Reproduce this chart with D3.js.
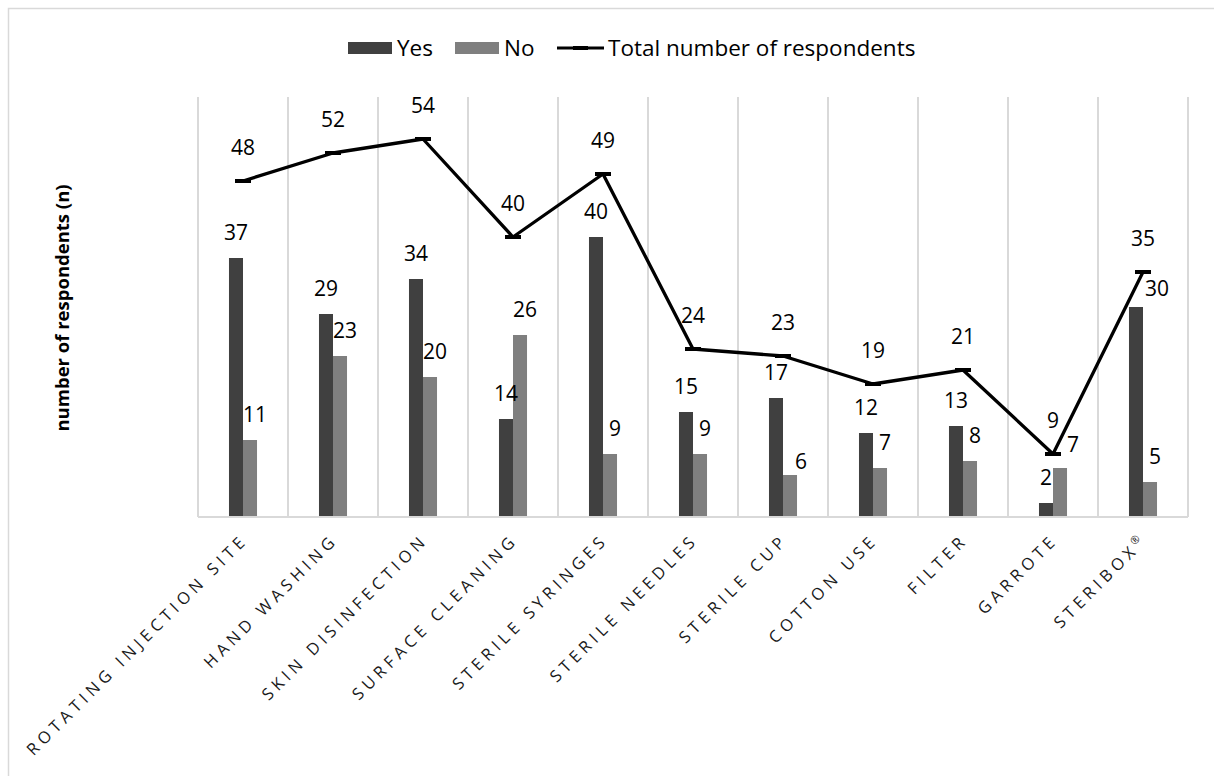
<!DOCTYPE html>
<html lang="en">
	<head>
		<meta charset="utf-8">
		<title>Hygiene practices chart</title>
		<script type="text/javascript" src="https://cdn.jsdelivr.net/npm/d3@7"></script>
		<style type="text/css">
			body { margin: 0; background: #fff; }
			svg { font-family: "Open Sans", sans-serif; }
			.grid line { stroke: #d9d9d9; stroke-width: 2; }
			.xlab text { font-size: 16.5px; letter-spacing: 4.5px; fill: #1a1a1a; }
			.val { font-size: 21px; fill: #000; text-anchor: middle; }
			.legend text { font-size: 22.5px; fill: #000; }
		</style>
	</head>
	<body>
		<script type="text/javascript">

			// data
			var categories = ["ROTATING INJECTION SITE", "HAND WASHING", "SKIN DISINFECTION", "SURFACE CLEANING",
				"STERILE SYRINGES", "STERILE NEEDLES", "STERILE CUP", "COTTON USE", "FILTER", "GARROTE", "STERIBOX\u00ae"];
			var yesValues = [37, 29, 34, 14, 40, 15, 17, 12, 13, 2, 30];
			var noValues = [11, 23, 20, 26, 9, 9, 6, 7, 8, 7, 5];
			var totalValues = [48, 52, 54, 40, 49, 24, 23, 19, 21, 9, 35];
			var seriesNames = ["Yes", "No"];
			var yMax = 60;

			var colors = {Yes: "#404040", No: "#7f7f7f"};

			var W = 1214, H = 776;
			var margin = {top: 97, right: 26, bottom: 259, left: 198};
			var w = W - margin.left - margin.right,
				h = H - margin.top - margin.bottom;

			var svg = d3.select("body")
						.append("svg")
						.attr("width", W)
						.attr("height", H);

			// outer chart border (runs off the right/bottom of the picture)
			svg.append("rect")
			   .attr("x", 8.5).attr("y", 8.5)
			   .attr("width", W + 20).attr("height", H + 20)
			   .attr("fill", "none")
			   .attr("stroke", "#d9d9d9")
			   .attr("stroke-width", 1.5);

			var g = svg.append("g")
					   .attr("transform", "translate(" + margin.left + "," + margin.top + ")");

			var xScale = d3.scaleBand()
			   .domain(categories)
			   .range([0, w])
			   .padding(0);

			var xInner = d3.scaleBand()
			   .domain(seriesNames)
			   .range([0, xScale.bandwidth()])
			   .paddingInner(0)
			   .paddingOuter(2.21);

			var yScale = d3.scaleLinear()
			   .domain([0, yMax])
			   .range([h, 0]);

			// vertical gridlines between categories
			var grid = g.append("g").attr("class", "grid");
			grid.selectAll("line.v")
			   .data(d3.range(categories.length + 1))
			   .enter()
			   .append("line")
			   .attr("x1", function(i) { return i * xScale.step(); })
			   .attr("x2", function(i) { return i * xScale.step(); })
			   .attr("y1", 0)
			   .attr("y2", h);

			// bars
			var rows = categories.map(function(c, i) {
				return {cat: c, Yes: yesValues[i], No: noValues[i], total: totalValues[i]};
			});

			// a few labels were moved by hand in the original
			var labelNudge = {
				"STERILE CUP|No": [6, 12],
				"GARROTE|No": [8, 2],
				"STERIBOX\u00ae|Yes": [21, 7]
			};

			var groups = g.selectAll("g.cat")
			   .data(rows)
			   .enter()
			   .append("g")
			   .attr("class", "cat")
			   .attr("transform", function(d) { return "translate(" + xScale(d.cat) + ",0)"; });

			groups.selectAll("rect")
			   .data(function(d) { return seriesNames.map(function(s) { return {cat: d.cat, key: s, v: d[s]}; }); })
			   .enter()
			   .append("rect")
			   .attr("x", function(d) { return xInner(d.key); })
			   .attr("y", function(d) { return yScale(d.v); })
			   .attr("width", xInner.bandwidth())
			   .attr("height", function(d) { return h - yScale(d.v); })
			   .attr("fill", function(d) { return colors[d.key]; });

			groups.selectAll("text.val")
			   .data(function(d) { return seriesNames.map(function(s) { return {cat: d.cat, key: s, v: d[s]}; }); })
			   .enter()
			   .append("text")
			   .attr("class", "val")
			   .attr("x", function(d) {
			   		var n = labelNudge[d.cat + "|" + d.key];
			   		return xInner(d.key) + xInner.bandwidth() / 2 + (d.key == "No" ? 5 : 0) + (n ? n[0] : 0);
			   })
			   .attr("y", function(d) {
			   		var n = labelNudge[d.cat + "|" + d.key];
			   		return yScale(d.v) - 18 + (n ? n[1] : 0);
			   })
			   .text(function(d) { return d.v; });

			// bottom axis line
			g.append("line")
			   .attr("x1", 0).attr("x2", w)
			   .attr("y1", h).attr("y2", h)
			   .attr("stroke", "#d9d9d9")
			   .attr("stroke-width", 2);

			// total line
			var cx = function(d) { return xScale(d.cat) + xScale.bandwidth() / 2; };
			var line = d3.line()
			   .x(cx)
			   .y(function(d) { return yScale(d.total); });

			g.append("path")
			   .datum(rows)
			   .attr("d", line)
			   .attr("fill", "none")
			   .attr("stroke", "#000")
			   .attr("stroke-width", 3.3)
			   .attr("stroke-linejoin", "round");

			// dash markers
			g.selectAll("line.mk")
			   .data(rows)
			   .enter()
			   .append("line")
			   .attr("class", "mk")
			   .attr("x1", function(d) { return cx(d) - 8; })
			   .attr("x2", function(d) { return cx(d) + 8; })
			   .attr("y1", function(d) { return yScale(d.total); })
			   .attr("y2", function(d) { return yScale(d.total); })
			   .attr("stroke", "#000")
			   .attr("stroke-width", 4);

			g.selectAll("text.tot")
			   .data(rows)
			   .enter()
			   .append("text")
			   .attr("class", "val")
			   .attr("x", cx)
			   .attr("y", function(d) { return yScale(d.total) - 26; })
			   .text(function(d) { return d.total; });

			// x axis labels, rotated; the ® is drawn small and raised
			var xl = g.append("g").attr("class", "xlab");
			xl.selectAll("text")
			   .data(categories)
			   .enter()
			   .append("text")
			   .attr("text-anchor", "end")
			   .attr("transform", function(d) {
			   		return "translate(" + (xScale(d) + xScale.bandwidth() / 2 + 6) + "," + (h + 24) + ") rotate(-45)";
			   })
			   .each(function(d) {
			   		var t = d3.select(this);
			   		var k = d.indexOf("\u00ae");
			   		if (k < 0) { t.text(d); return; }
			   		t.append("tspan").text(d.slice(0, k));
			   		t.append("tspan")
			   		 .attr("font-size", "11px")
			   		 .attr("baseline-shift", "super")
			   		 .text("\u00ae");
			   });

			// y axis title
			svg.append("text")
			   .attr("transform", "translate(69," + (margin.top + h / 2 + 1) + ") rotate(-90)")
			   .attr("text-anchor", "middle")
			   .attr("font-size", "18.5px")
			   .attr("font-weight", "bold")
			   .text("number of respondents (n)");

			// legend
			var lg = svg.append("g").attr("class", "legend");
			var legendItems = [
				{name: "Yes", x: 348, type: "bar", color: colors.Yes},
				{name: "No", x: 455, type: "bar", color: colors.No},
				{name: "Total number of respondents", x: 557, type: "line", color: "#000"}
			];
			legendItems.forEach(function(it) {
				if (it.type == "bar") {
					lg.append("rect")
					  .attr("x", it.x).attr("y", 42)
					  .attr("width", 44).attr("height", 12)
					  .attr("fill", it.color);
				} else {
					lg.append("line")
					  .attr("x1", it.x).attr("x2", it.x + 47)
					  .attr("y1", 48).attr("y2", 48)
					  .attr("stroke", it.color).attr("stroke-width", 3);
					lg.append("line")
					  .attr("x1", it.x + 16).attr("x2", it.x + 31)
					  .attr("y1", 48).attr("y2", 48)
					  .attr("stroke", it.color).attr("stroke-width", 4);
				}
				lg.append("text")
				  .attr("x", it.x + (it.type == "bar" ? 49 : 51))
				  .attr("y", 56)
				  .text(it.name);
			});
		</script>
	</body>
</html>
